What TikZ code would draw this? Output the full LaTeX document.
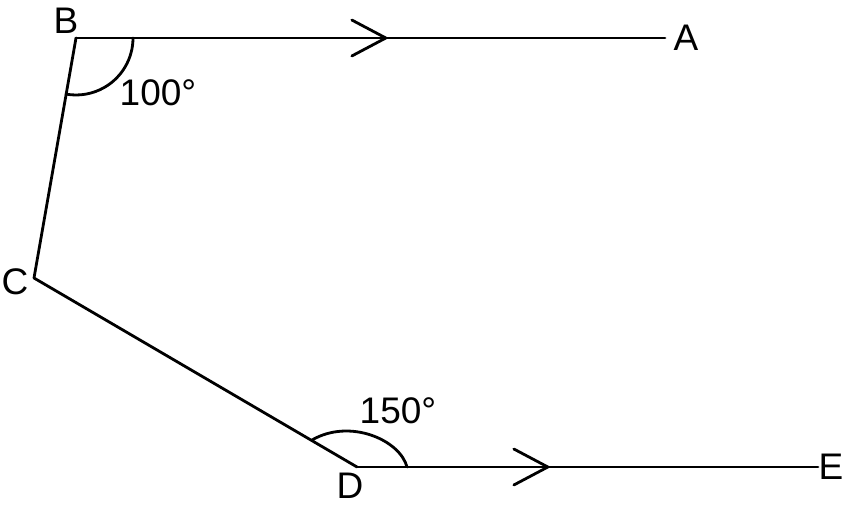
\documentclass[tikz,border=0pt]{standalone}
\usepackage{fontspec}
\setmainfont{Liberation Sans}
\usetikzlibrary{decorations.markings}
\begin{document}
\begin{tikzpicture}[x=1pt,y=-1pt,
  seg/.style={line width=2.8pt, line cap=round, line join=round},
  lbl/.style={font=\fontsize{37}{37}\selectfont, inner sep=0pt},
  chevron/.style={postaction={decorate},decoration={markings,
    mark=at position #1 with {\draw[line width=2.8pt,line cap=round,line join=miter] (-34pt,-18pt) -- (0pt,0pt) -- (-34pt,18pt);}}}]
\useasboundingbox (0,0) rectangle (851,505);
\coordinate (B) at (76,38);
\coordinate (A) at (665,38);
\coordinate (C) at (34,278);
\coordinate (D) at (357,467);
\coordinate (E) at (818,467);
\coordinate (d1) at (407,467);
\coordinate (d2) at (312,440);
\draw[seg, chevron=0.526] (B) -- (A);
\draw[seg] (B) -- (C) -- (D);
\draw[seg, chevron=0.414] (D) -- (E);
\draw[seg] (B) ++(57,0) arc[start angle=0, end angle=100, radius=57];
\draw[seg] (d1) .. controls (400,440) and (350,418) .. (d2);
\node[lbl] (lB) at (66,21) {B};
\node[lbl] (lA) at (686,38) {A};
\node[lbl] (lC) at (15,282) {C};
\node[lbl] (lD) at (350,486) {D};
\node[lbl] (lE) at (831,467) {E};
\node[lbl] (a1) at (158,93) {100°};
\node[lbl] (a2) at (398,411) {150°};
\end{tikzpicture}
\end{document}
